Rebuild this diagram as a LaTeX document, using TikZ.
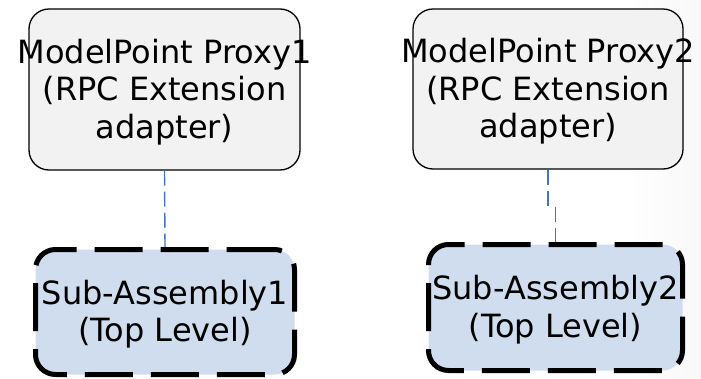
\documentclass[tikz,border=0pt]{standalone}
\usepackage{fontspec}
\setmainfont{DejaVu Sans}
\usetikzlibrary{calc}

\begin{document}
\begin{tikzpicture}
		[x=1pt, y=1pt,
			box/.style={rounded corners=20pt, inner sep=0pt},
			txt/.style={inner sep=0pt, align=center, font=\fontsize{32}{37.5}\selectfont},
			proxy/.style={box, draw=black, line width=1.3pt, fill=black!5,
				minimum width=271pt, minimum height=161pt},
			assembly/.style={box, draw=black, line width=5pt, fill={rgb,255:red,207;green,221;blue,239},
				dash pattern=on 48pt off 18pt, minimum height=125pt},
			link/.style={draw={rgb,255:red,68;green,114;blue,196}, line width=1.4pt,
				dash pattern=on 15pt off 6pt}]
		% fix the picture's size
		\useasboundingbox (0, 0) rectangle (701, 378);
		\shade[left color=white, right color=black!3] (630, 0) rectangle (701, 378);
		% define box centres
		\coordinate (p1) at (164.5, 288.5);
		\coordinate (p2) at (548, 289);
		\coordinate (s1) at (165, 66);
		\coordinate (s2) at (555.5, 70.5);
		% draw the proxies
		\node[proxy] (P1) at (p1) {};
		\node[proxy, minimum width=270pt, minimum height=160pt] (P2) at (p2) {};
		% draw the sub-assemblies
		\node[assembly, minimum width=259pt] (S1) at (s1) {};
		\node[assembly, minimum width=254pt, minimum height=126pt] (S2) at (s2) {};
		% label the boxes
		\node[txt] (T1) at ($(P1.center)+(0,-2.5)$) {ModelPoint Proxy1\\(RPC Extension\\adapter)};
		\node[txt] (T2) at ($(P2.center)+(0,-2.5)$) {ModelPoint Proxy2\\(RPC Extension\\adapter)};
		\node[txt] (U1) at ($(S1.center)+(0,-2)$) {Sub-Assembly1\\(Top Level)};
		\node[txt] (U2) at ($(S2.center)+(0,-2)$) {Sub-Assembly2\\(Top Level)};
		% connect them
		\draw[link] (P1.south) to (S1.north);
		\draw[link] (P2.south) -- ++(0, -37) coordinate (k) (k -| S2.north) -- (S2.north);
	\end{tikzpicture}
\end{document}
